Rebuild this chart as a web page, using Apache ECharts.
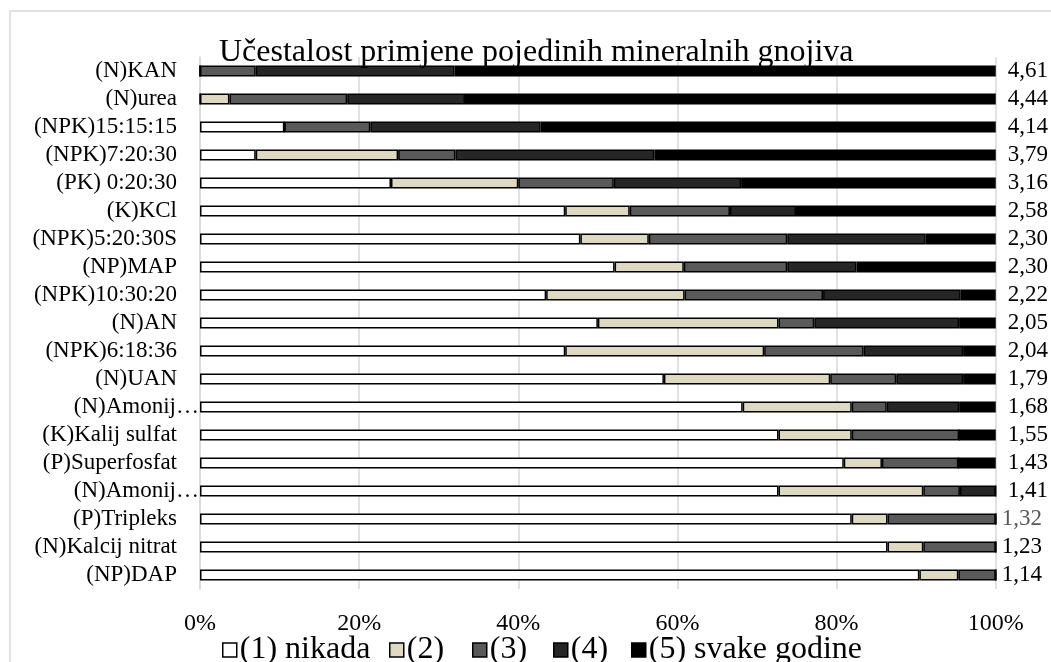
<!DOCTYPE html>
<html>
<head>
<meta charset="utf-8">
<title>Učestalost primjene pojedinih mineralnih gnojiva</title>
<script src="https://cdn.jsdelivr.net/npm/echarts@6.0.0/dist/echarts.min.js"></script>
<style>
  html, body { margin: 0; padding: 0; background: #fff; }
  #chart { width: 1051px; height: 662px; }
</style>
</head>
<body>
<div id="chart"></div>
<script>
  // gnojiva, od vrha prema dnu
  var categories = ['(N)KAN', '(N)urea', '(NPK)15:15:15', '(NPK)7:20:30', '(PK) 0:20:30', '(K)KCl',
    '(NPK)5:20:30S', '(NP)MAP', '(NPK)10:30:20', '(N)AN', '(NPK)6:18:36', '(N)UAN', '(N)Amonij…',
    '(K)Kalij sulfat', '(P)Superfosfat', '(N)Amonij…', '(P)Tripleks', '(N)Kalcij nitrat', '(NP)DAP'];
  // prosjecna ocjena (desno od stupaca)
  var means = [4.61, 4.44, 4.14, 3.79, 3.16, 2.58, 2.30, 2.30, 2.22, 2.05, 2.04, 1.79, 1.68, 1.55, 1.43, 1.41, 1.32, 1.23, 1.14];
  var seriesNames = ['(1) nikada', '(2)', '(3)', '(4)', '(5) svake godine'];
  // udjeli u %
  var s1 = [0, 0, 10.6, 7.0, 24.0, 45.9, 47.8, 52.1, 43.5, 50.0, 45.9, 58.3, 68.2, 72.7, 80.9, 72.7, 81.9, 86.4, 90.4];
  var s2 = [0, 3.7, 0, 17.9, 16.0, 8.1, 8.6, 8.7, 17.4, 22.7, 25.0, 20.9, 13.7, 9.2, 4.8, 18.2, 4.5, 4.5, 4.9];
  var s3 = [7.0, 14.8, 10.8, 7.2, 12.0, 12.6, 17.4, 13.0, 17.4, 4.5, 12.5, 8.3, 4.4, 13.5, 9.6, 4.6, 13.6, 9.1, 4.7];
  var s4 = [25.0, 14.8, 21.4, 25.0, 16.0, 8.3, 17.4, 8.7, 17.3, 18.2, 12.5, 8.4, 9.1, 0, 0, 4.5, 0, 0, 0];
  var s5 = [68.0, 66.7, 57.2, 42.9, 32.0, 25.1, 8.8, 17.5, 4.4, 4.6, 4.1, 4.1, 4.6, 4.6, 4.7, 0, 0, 0, 0];
  var xTicks = [0, 20, 40, 60, 80, 100];

  var colors = ['#ffffff', '#ddd9c3', '#595959', '#262626', '#000000'];
  var legendLeft = [222, 389, 472, 553, 631];
  var font = 'Liberation Serif';
  var values = [s1, s2, s3, s4, s5];

  var series = [];
  var legends = [];
  for (let i = 0; i < values.length; i++) {
    series.push({
      name: seriesNames[i],
      type: 'bar',
      stack: 'ukupno',
      barWidth: 11,
      itemStyle: {
        color: colors[i],
        borderColor: '#000',
        borderWidth: 1.5
      },
      data: values[i]
    });
    // svaka stavka legende posebno, kao u Excelu
    legends.push({
      data: [seriesNames[i]],
      left: legendLeft[i],
      top: 634,
      padding: 0,
      itemWidth: 14,
      itemHeight: 14,
      icon: 'rect',
      itemStyle: { borderColor: '#000', borderWidth: 1.5 },
      textStyle: { fontFamily: font, fontSize: 32, color: '#000', padding: [0, 0, 0, -2] }
    });
  }

  var chart = echarts.init(document.getElementById('chart'));
  chart.setOption({
    animation: false,
    backgroundColor: '#fff',
    textStyle: { fontFamily: font, color: '#000' },
    graphic: [{
      type: 'rect',
      shape: { x: 10, y: 11, width: 1100, height: 700 },
      style: { fill: 'none', stroke: '#d9d9d9', lineWidth: 1.5 }
    }],
    title: {
      text: 'Učestalost primjene pojedinih mineralnih gnojiva',
      left: 219,
      top: 37,
      padding: 0,
      textStyle: { fontFamily: font, fontSize: 32, fontWeight: 'normal', color: '#000' }
    },
    legend: legends,
    grid: { left: 200, right: 48, top: 57, bottom: 73 },
    xAxis: {
      type: 'value',
      min: xTicks[0],
      max: xTicks[xTicks.length - 1],
      interval: 20,
      axisLine: { show: false },
      axisTick: { show: false },
      splitLine: { lineStyle: { color: '#d9d9d9', width: 1.5 } },
      axisLabel: { formatter: '{value}%', fontFamily: font, fontSize: 24, color: '#000', margin: 23 }
    },
    yAxis: [{
      type: 'category',
      data: categories,
      inverse: true,
      axisLine: { show: true, lineStyle: { color: '#d9d9d9', width: 1.5 } },
      axisTick: { show: false },
      axisLabel: {
        interval: 0,
        margin: 1,
        // skraceni nazivi (…) u Excelu prelaze preko ruba
        formatter: function (value) {
          return value.indexOf('…') >= 0 ? '{e|' + value + '}' : '{c|' + value + '}';
        },
        rich: {
          c: { fontFamily: font, fontSize: 23, color: '#000', padding: [0, 22, 0, 0] },
          e: { fontFamily: font, fontSize: 23, color: '#000', padding: [0, 0, 0, 0] }
        }
      }
    }, {
      type: 'category',
      data: means.map(function (m) { return m.toFixed(2).replace('.', ','); }),
      inverse: true,
      position: 'right',
      axisLine: { show: false },
      axisTick: { show: false },
      axisLabel: {
        interval: 0,
        margin: 4,
        formatter: function (value, index) {
          if (index === 16) return '{g|' + value + '}';
          if (index > 16) return '{k|' + value + '}';
          return '{n|' + value + '}';
        },
        rich: {
          n: { fontFamily: font, fontSize: 23, color: '#000', padding: [0, 0, 0, 8] },
          g: { fontFamily: font, fontSize: 23, color: '#595959', padding: [0, 0, 0, 2] },
          k: { fontFamily: font, fontSize: 23, color: '#000', padding: [0, 0, 0, 2] }
        }
      }
    }],
    series: series
  });
</script>
</body>
</html>
